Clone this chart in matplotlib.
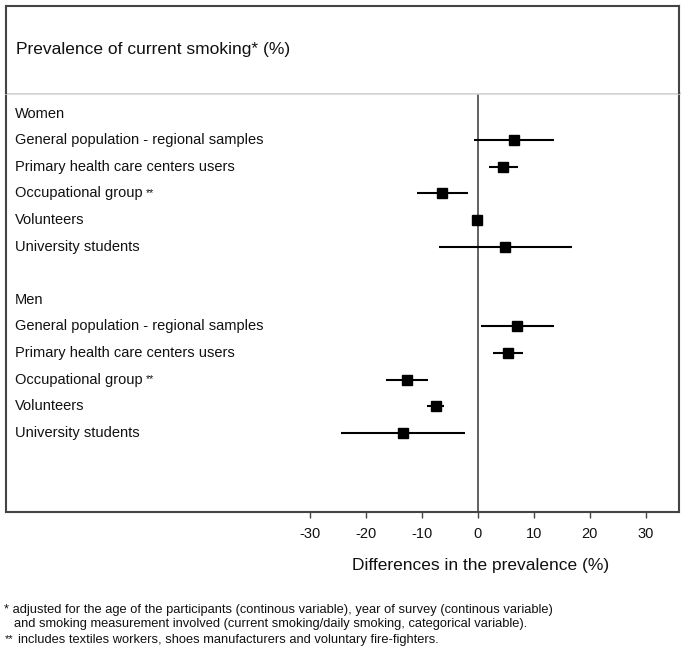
import matplotlib
matplotlib.use("Agg")
import matplotlib.pyplot as plt
from matplotlib.transforms import blended_transform_factory

plt.rcParams['font.family'] = ['Liberation Sans', 'DejaVu Sans']

# ---- data ----
groups = ["Women", "Men"]
categories = ["General population - regional samples",
              "Primary health care centers users",
              "Occupational group",
              "Volunteers",
              "University students"]
starred = [False, False, True, False, False]

women_est = [6.5, 4.6, -6.3, -0.2, 4.9]
women_lo = [-0.7, 2.1, -10.8, -0.6, -6.9]
women_hi = [13.7, 7.2, -1.7, 0.2, 16.8]

men_est = [7.0, 5.4, -12.6, -7.5, -13.3]
men_lo = [0.5, 2.7, -16.3, -9.0, -24.5]
men_hi = [13.6, 8.0, -8.8, -6.0, -2.3]

xticks = [-30, -20, -10, 0, 10, 20, 30]

title = "Prevalence of current smoking* (%)"
xlabel = "Differences in the prevalence (%)"
foot1 = "* adjusted for the age of the participants (continous variable), year of survey (continous variable)"
foot2 = "and smoking measurement involved (current smoking/daily smoking, categorical variable)."
foot3 = "includes textiles workers, shoes manufacturers and voluntary fire-fighters."

W, H = 685, 665
fig = plt.figure(figsize=(W / 100, H / 100), dpi=100)

def fx(px):
    return px / W

def fy(py):
    return 1 - py / H

left_px, right_px = 6.3, 678.5
top_px, bot_px = 92.7, 512.0
ax = fig.add_axes([fx(left_px), fy(bot_px), fx(right_px - left_px), (bot_px - top_px) / H])

dark = '#444444'
for s in ['left', 'right', 'bottom']:
    ax.spines[s].set_color(dark)
    ax.spines[s].set_linewidth(1.5)
ax.spines['top'].set_color('#d4d4d4')
ax.spines['top'].set_linewidth(1.8)

# x scale: 0 at 477.7 px, 5.6 px per unit
x0_px, ppu = 477.7, 5.6
ax.set_xlim((left_px - x0_px) / ppu, (right_px - x0_px) / ppu)
# y rows: row 0 at 113.5 px, 26.6 px per row
y0_px, rpp = 113.5, 26.6
ax.set_ylim((bot_px - y0_px) / rpp, (top_px - y0_px) / rpp)

ax.set_yticks([])
ax.set_xticks(xticks)
ax.set_xticklabels([str(t) for t in xticks], fontsize=10.5, color='#111111')
ax.tick_params(axis='x', direction='out', length=4.5, width=1.0, color=dark, pad=6)

ax.axvline(0, color='#555555', lw=1.3, zorder=1)

trans = blended_transform_factory(ax.transAxes, ax.transData)
lbl_x = (15 - left_px) / (right_px - left_px)
label_fs = 10.5

data = [(women_est, women_lo, women_hi), (men_est, men_lo, men_hi)]
row = 0
for g, (est, lo, hi) in zip(groups, data):
    ax.text(lbl_x, row, g, transform=trans, va='center', ha='left', fontsize=label_fs, color='#111111')
    row += 1
    for cat, st, e, l, h in zip(categories, starred, est, lo, hi):
        t = ax.text(lbl_x, row, cat, transform=trans, va='center', ha='left', fontsize=label_fs, color='#111111')
        if st:
            ax.annotate("**", xy=(1, 0.5), xycoords=t, xytext=(2.5, 0), textcoords='offset points',
                        fontsize=7.5, va='center', ha='left', color='#111111')
        ax.plot([l, h], [row, row], color='black', lw=1.5, solid_capstyle='butt', zorder=2)
        ax.plot([e], [row], marker='s', ms=6.8, color='black', zorder=3)
        row += 1
    row += 1

# x label
xl_trans = blended_transform_factory(ax.transData, fig.transFigure)
ax.text(0.6, fy(565.7), xlabel, transform=xl_trans, ha='center', va='center', fontsize=12.5, color='#111111')

# top title box
tax = fig.add_axes([fx(left_px), fy(top_px), fx(right_px - left_px), (top_px - 6.0) / H])
tax.set_xticks([])
tax.set_yticks([])
for s in ['left', 'right', 'top']:
    tax.spines[s].set_color(dark)
    tax.spines[s].set_linewidth(1.5)
tax.spines['bottom'].set_visible(False)
fig.text(fx(16), fy(49.5), title, ha='left', va='center', fontsize=12.5, color='#111111')

# footnotes
foot_fs = 9.3
fig.text(fx(4.5), fy(610), foot1, ha='left', va='center', fontsize=foot_fs, color='#111111')
fig.text(fx(14), fy(623.5), foot2, ha='left', va='center', fontsize=foot_fs, color='#111111')
fig.text(fx(4.5), fy(639), "**", ha='left', va='center', fontsize=8, color='#111111')
fig.text(fx(18), fy(639.5), foot3, ha='left', va='center', fontsize=foot_fs, color='#111111')

fig.savefig("out.png", dpi=100)
